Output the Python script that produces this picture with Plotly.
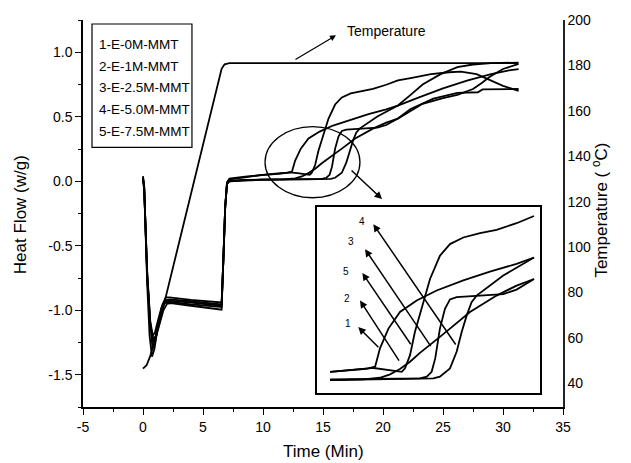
import plotly.graph_objects as go

# ---------------- data ----------------
legend_labels = ["1-E-0M-MMT", "2-E-1M-MMT", "3-E-2.5M-MMT", "4-E-5.0M-MMT", "5-E-7.5M-MMT"]

t1 = [0, 0.1, 0.35, 0.6, 0.8, 1.0, 1.3, 1.6, 1.9, 2.2, 4.0, 6.55, 6.7, 6.85, 7.0, 7.2, 8.5, 9.91,
      11.02, 12.04, 12.41, 12.68, 13.15, 13.79, 14.72, 15.83, 17.31, 18.79, 20.27, 21.24,
      23.0, 25.0, 27.0, 29.0, 30.5, 31.3]
hf1 = [0.03, -0.05, -0.72, -1.1, -1.2, -1.17, -1.06, -0.96, -0.9, -0.9, -0.92, -0.94, -0.6, -0.2,
       -0.01, 0.02, 0.035, 0.05, 0.058, 0.066, 0.074, 0.16, 0.253, 0.331, 0.385, 0.432, 0.479,
       0.521, 0.557, 0.587, 0.65, 0.72, 0.78, 0.83, 0.86, 0.87]

t2 = [0, 0.1, 0.35, 0.6, 0.85, 1.05, 1.35, 1.65, 1.95, 2.2, 4.0, 6.55, 6.7, 6.85, 7.0, 7.2, 8.5, 9.91,
      11.76, 12.68, 13.24, 13.79, 14.35, 14.90, 15.46, 16.01, 16.57, 17.68, 19.16, 20.27, 21.24,
      23.3, 25.0, 26.2, 27.5, 28.2, 28.9, 30.0, 31.3]
hf2 = [0.02, -0.06, -0.75, -1.12, -1.25, -1.2, -1.08, -0.97, -0.92, -0.915, -0.93, -0.955, -0.6,
       -0.2, -0.02, 0.005, 0.01, 0.011, 0.014, 0.022, 0.038, 0.063, 0.097, 0.139, 0.175, 0.214,
       0.253, 0.331, 0.408, 0.455, 0.486, 0.6, 0.645, 0.67, 0.715, 0.76, 0.81, 0.87, 0.91]

t3 = [0, 0.1, 0.35, 0.55, 0.75, 0.95, 1.25, 1.55, 1.85, 2.2, 4.0, 6.55, 6.7, 6.85, 7.0, 7.2, 8.5, 9.91,
      13.61, 14.90, 15.28, 15.55, 15.75, 16.01, 16.29, 16.57, 16.94, 18.24, 19.53, 20.27, 21.24,
      22.3, 24.2, 26.2, 27.9, 28.3, 29.5, 31.3]
hf3 = [0.03, -0.04, -0.8, -1.2, -1.36, -1.3, -1.12, -0.98, -0.94, -0.935, -0.955, -0.975, -0.6,
       -0.2, -0.02, 0.0, 0.008, 0.014, 0.016, 0.019, 0.027, 0.05, 0.113, 0.253, 0.346, 0.39, 0.401,
       0.408, 0.415, 0.436, 0.486, 0.56, 0.64, 0.685, 0.69, 0.712, 0.714, 0.715]

t4 = [0, 0.1, 0.35, 0.6, 0.85, 1.1, 1.4, 1.7, 2.0, 2.3, 4.0, 6.55, 6.7, 6.85, 7.0, 7.2, 8.5, 9.91,
      13.61, 15.65, 16.01, 16.57, 16.94, 17.22, 17.50, 17.77, 18.05, 19.53, 21.24, 22.3, 23.3,
      24.8, 26.2, 27.5, 29.0, 31.3]
hf4 = [0.01, -0.07, -0.7, -1.08, -1.22, -1.2, -1.1, -1.0, -0.95, -0.945, -0.965, -0.995, -0.6,
       -0.2, -0.02, 0.0, 0.005, 0.011, 0.014, 0.019, 0.027, 0.066, 0.144, 0.237, 0.315, 0.377,
       0.408, 0.502, 0.587, 0.67, 0.75, 0.83, 0.885, 0.905, 0.915, 0.92]

t5 = [0, 0.1, 0.35, 0.6, 0.8, 1.0, 1.3, 1.6, 1.9, 2.2, 4.0, 6.55, 6.7, 6.85, 7.0, 7.2, 8.5, 9.91,
      11.02, 11.76, 12.23, 12.87, 13.89, 14.07, 14.35, 14.62, 14.99, 15.46, 16.01, 16.57, 17.31,
      18.24, 19.16, 20.27, 21.24, 22.3, 24.0, 25.5, 26.5, 27.8, 28.8, 30.0, 31.3]
hf5 = [0.04, -0.05, -0.73, -1.1, -1.3, -1.25, -1.1, -0.98, -0.93, -0.925, -0.94, -0.965, -0.6,
       -0.2, -0.01, 0.015, 0.03, 0.05, 0.056, 0.063, 0.069, 0.063, 0.05, 0.066, 0.128, 0.237,
       0.346, 0.486, 0.595, 0.65, 0.681, 0.701, 0.717, 0.748, 0.782, 0.8, 0.83, 0.845, 0.85,
       0.83, 0.79, 0.74, 0.70]

temp_t = [0, 0.3, 0.6, 1.0, 1.5, 2.5, 3.5, 5.0, 6.3, 6.55, 6.8, 7.2, 31.2]
temp_c = [46.5, 48, 52, 59, 69.5, 91, 112.5, 145, 173, 178.5, 180.5, 181, 181]

x_tick_vals = [-5, 0, 5, 10, 15, 20, 25, 30, 35]
x_tick_text = ["-5", "0", "5", "10", "15", "20", "25", "30", "35"]
y_tick_vals = [-1.5, -1.0, -0.5, 0.0, 0.5, 1.0]
y_tick_text = ["-1.5", "-1.0", "-0.5", "0.0", "0.5", "1.0"]
temp_tick_vals = [40, 60, 80, 100, 120, 140, 160, 180, 200]
temp_tick_text = ["40", "60", "80", "100", "120", "140", "160", "180", "200"]
inset_labels = ["4", "3", "5", "2", "1"]

# ---------------- figure ----------------
FONT = "Liberation Sans, Arial, sans-serif"
curves = [(t1, hf1), (t2, hf2), (t3, hf3), (t4, hf4), (t5, hf5)]
INSET_T = (9.6, 21.3)

fig = go.Figure()
for (tt, hh), name in zip(curves, legend_labels):
    fig.add_trace(go.Scatter(x=tt, y=hh, mode="lines", name=name,
                             line=dict(color="black", width=1.8),
                             xaxis="x", yaxis="y", showlegend=False))
    ti = [a for a, b in zip(tt, hh) if INSET_T[0] <= a <= INSET_T[1]]
    hi = [b for a, b in zip(tt, hh) if INSET_T[0] <= a <= INSET_T[1]]
    fig.add_trace(go.Scatter(x=ti, y=hi, mode="lines", name=name,
                             line=dict(color="black", width=1.8),
                             xaxis="x2", yaxis="y2", showlegend=False))

fig.add_trace(go.Scatter(x=temp_t, y=temp_c, mode="lines", name="Temperature",
                         line=dict(color="black", width=1.8),
                         xaxis="x", yaxis="y3", showlegend=False))

axis_common = dict(showgrid=False, zeroline=False, showline=True, linecolor="black",
                   linewidth=1.5, tickcolor="black",
                   tickfont=dict(family=FONT, size=14, color="black"))

fig.update_layout(
    width=631, height=463, autosize=False,
    margin=dict(l=83, r=68, t=18, b=56),
    paper_bgcolor="white", plot_bgcolor="white",
    font=dict(family=FONT, color="black"),
    xaxis=dict(range=[-5, 35], domain=[0, 1], anchor="y",
               tickmode="array", tickvals=x_tick_vals, ticktext=x_tick_text,
               ticks="outside", ticklen=6, tickwidth=1.3,
               minor=dict(tickmode="linear", tick0=-5, dtick=2.5, ticks="outside",
                          ticklen=3, tickwidth=1.2, tickcolor="black"),
               **axis_common),
    yaxis=dict(range=[-1.75, 1.25], domain=[0, 1], anchor="x",
               tickmode="array", tickvals=y_tick_vals, ticktext=y_tick_text,
               ticks="outside", ticklen=6, tickwidth=1.3,
               minor=dict(tickmode="linear", tick0=0, dtick=0.25, ticks="outside",
                          ticklen=3, tickwidth=1.2, tickcolor="black"),
               **axis_common),
    yaxis3=dict(range=[29.6, 200], overlaying="y", side="right", anchor="x",
                tickmode="array", tickvals=temp_tick_vals, ticktext=temp_tick_text,
                ticks="", showgrid=False, zeroline=False, showline=True,
                linecolor="#222", linewidth=1.5,
                tickfont=dict(family=FONT, size=14, color="black")),
    xaxis2=dict(range=[9.18, 21.57], domain=[0.4875, 0.952], anchor="y2",
                showticklabels=False, ticks="", showgrid=False, zeroline=False,
                showline=True, mirror=True, linecolor="black", linewidth=1.6),
    yaxis2=dict(range=[-0.05, 0.824], domain=[0.036, 0.5167], anchor="x2",
                showticklabels=False, ticks="", showgrid=False, zeroline=False,
                showline=True, mirror=True, linecolor="black", linewidth=1.6),
)

# ellipse highlighting the zoomed region
fig.add_shape(type="circle", xref="x", yref="y", x0=10.17, x1=18.08, y0=-0.128, y1=0.423,
              line=dict(color="black", width=1.3))

# legend box
fig.add_shape(type="rect", xref="paper", yref="paper", x0=0.01875, x1=0.227, y0=0.671, y1=0.9897,
              line=dict(color="black", width=1.2), fillcolor="white", layer="below")
legend_y = [0.9357, 0.8805, 0.8252, 0.7686, 0.7121]
for lab, yy in zip(legend_labels, legend_y):
    fig.add_annotation(text=lab, xref="paper", yref="paper", x=0.0292, y=yy,
                       xanchor="left", yanchor="middle", showarrow=False,
                       font=dict(family=FONT, size=13.5, color="black"))

# axis titles
fig.add_annotation(text="Time (Min)", xref="paper", yref="paper", x=0.5, y=-0.1157,
                   xanchor="center", yanchor="middle", showarrow=False,
                   font=dict(family=FONT, size=17, color="black"))
fig.add_annotation(text="Heat Flow (w/g)", xref="paper", yref="paper", x=-0.131, y=0.496,
                   xanchor="center", yanchor="middle", showarrow=False, textangle=-90,
                   font=dict(family=FONT, size=17, color="black"))
fig.add_annotation(text="Temperature ( <sup>o</sup>C)", xref="paper", yref="paper", x=1.077, y=0.51,
                   xanchor="center", yanchor="middle", showarrow=False, textangle=-90,
                   font=dict(family=FONT, size=17, color="black"))

# "Temperature" label and arrow
fig.add_annotation(text="Temperature", xref="x", yref="y", x=20.33, y=1.162,
                   xanchor="center", yanchor="middle", showarrow=False,
                   font=dict(family=FONT, size=14, color="black"))
fig.add_annotation(text="", xref="x", yref="y", x=16.08, y=1.131, ax=-42, ay=25,
                   showarrow=True, arrowhead=2, arrowsize=1, arrowwidth=1.2, arrowcolor="black")

# arrow from ellipse to inset
fig.add_annotation(text="", xref="x", yref="y", x=19.92, y=-0.138, ax=-32, ay=-30,
                   showarrow=True, arrowhead=2, arrowsize=1, arrowwidth=1.5, arrowcolor="black")

# inset arrows and labels
inset_arrows = [  # head x, head y, ax, ay, label x, label y
    (12.31, 0.743, 83.4, 121.7, 11.66, 0.754),
    (11.85, 0.626, 66.7, 98.4, 11.05, 0.660),
    (11.70, 0.514, 49.4, 72.7, 10.77, 0.522),
    (11.57, 0.385, 40.0, 61.7, 10.83, 0.396),
    (11.47, 0.260, 21.7, 21.6, 10.92, 0.276),
]
for lab, (hx, hy, ax, ay, lx, ly) in zip(inset_labels, inset_arrows):
    fig.add_annotation(text="", xref="x2", yref="y2", x=hx, y=hy, ax=ax, ay=ay,
                       showarrow=True, arrowhead=2, arrowsize=1, arrowwidth=1.5,
                       arrowcolor="black")
    fig.add_annotation(text=lab, xref="x2", yref="y2", x=lx, y=ly, showarrow=False,
                       xanchor="center", yanchor="middle",
                       font=dict(family=FONT, size=10, color="black"))

fig.write_html("out.html", config={"displayModeBar": False},
               post_script="document.body.style.margin='0px';document.body.style.padding='0px';")
